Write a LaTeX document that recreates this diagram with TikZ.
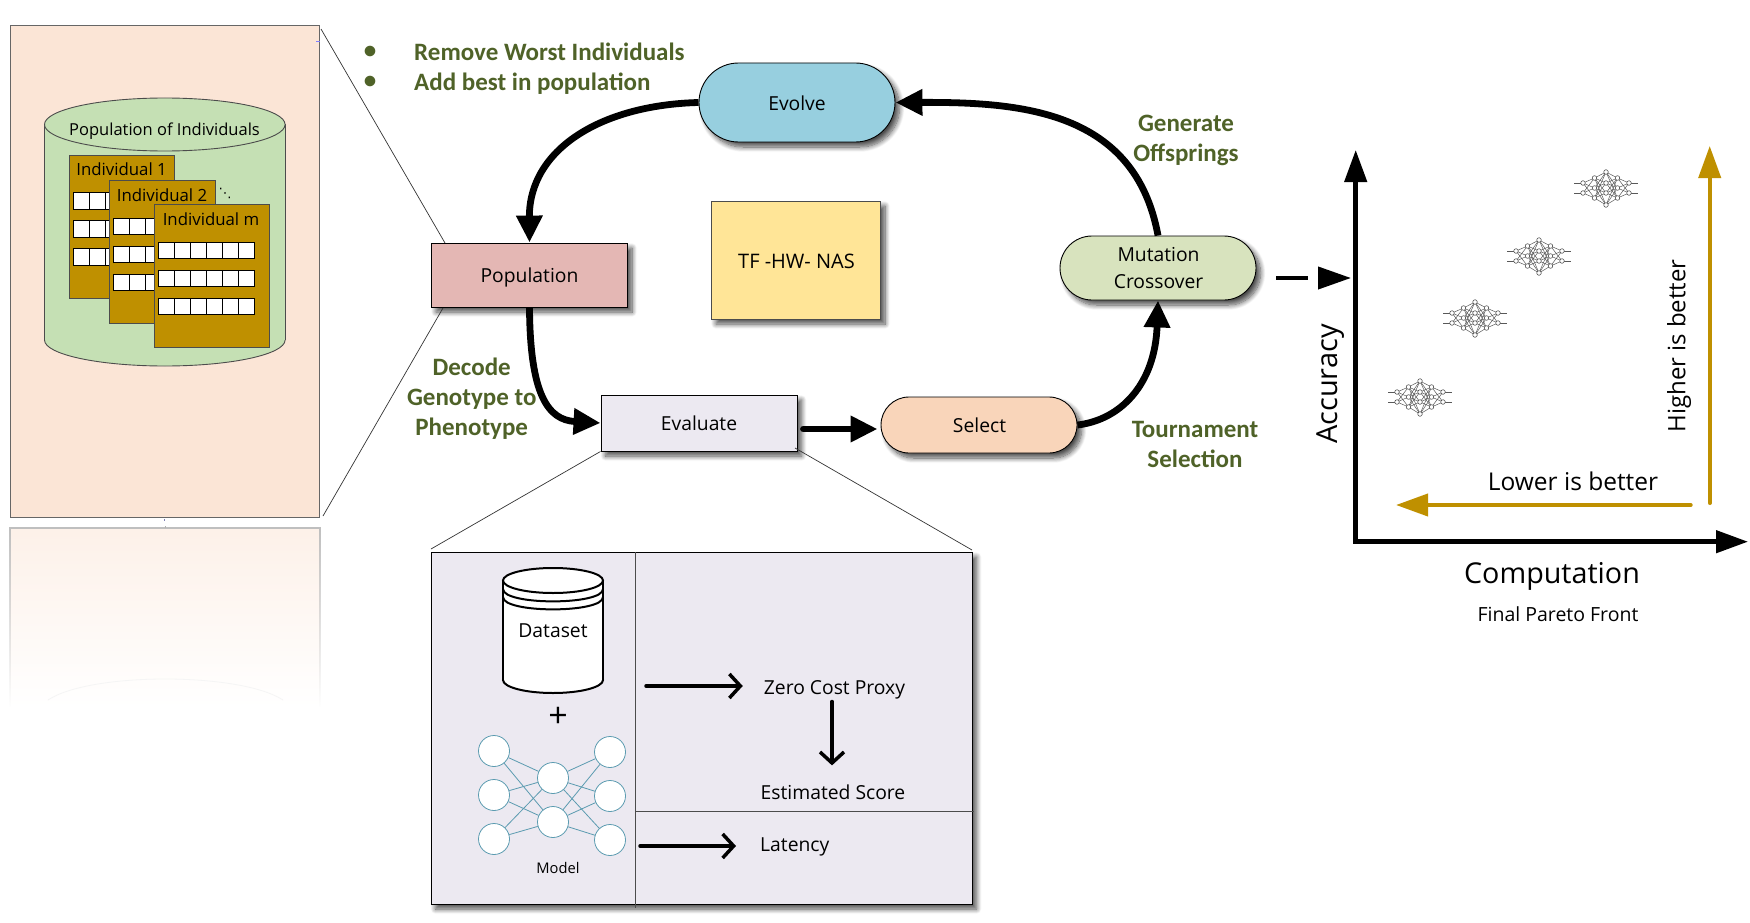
\documentclass[tikz,border=0pt]{standalone}
\usepackage{fontspec}
\setmainfont{Open Sans}
\newfontfamily\labelfont{Carlito}
\newfontfamily\symbfont{DejaVu Sans}
\usetikzlibrary{shapes,arrows.meta,calc,positioning,backgrounds,shadows.blur,fadings}

\definecolor{panelpeach}{HTML}{FBE5D6}
\definecolor{cylgreen}{HTML}{C5E0B4}
\definecolor{goldbox}{HTML}{BF9000}
\definecolor{evolveblue}{HTML}{97CFDF}
\definecolor{poppink}{HTML}{E4B7B4}
\definecolor{tfyellow}{HTML}{FFE597}
\definecolor{mutgreen}{HTML}{D8E3BE}
\definecolor{evalgray}{HTML}{ECE9F1}
\definecolor{selpeach}{HTML}{F9D5BA}
\definecolor{labelgreen}{HTML}{4F6228}
\definecolor{netblue}{HTML}{5B9BB0}

\tikzset{
  softshadow/.style={blur shadow={shadow xshift=4.5pt,shadow yshift=-5pt,shadow blur radius=5pt,shadow blur steps=10,shadow opacity=70}},
  rectbox/.style={rectangle,draw=black,line width=0.9pt,inner sep=0pt,softshadow},
  roundbox/.style={rounded rectangle,draw=black,line width=0.9pt,inner sep=0pt,align=center,softshadow},
  nodetext/.style={font=\fontsize{19.3}{27}\selectfont,inner sep=0pt},
  greentext/.style={font=\labelfont\bfseries\fontsize{25}{30}\selectfont,text=labelgreen,align=center,inner sep=0pt},
  flowarrow/.style={line width=6.8pt,-{Triangle[length=27pt,width=25pt]}},
  openarrow/.style={line width=3.5pt,line cap=round,-{Straight Barb[length=11pt,width=24pt]}},
  axisarrow/.style={line width=4.5pt,{Triangle[length=32pt,width=22pt]}-{Triangle[length=32pt,width=22pt]}},
  goldarrow/.style={line width=4pt,color=goldbox,line cap=round,-{Triangle[length=32pt,width=22pt]}},
  zoomline/.style={line width=0.7pt,color=black!80},
  indbox/.style={rectangle,draw=black!70,fill=goldbox,line width=0.8pt,anchor=north west,minimum height=142.5pt,inner sep=0pt},
  cellbox/.style={draw=black,fill=white,line width=0.7pt},
  netnode/.style={circle,draw=netblue,fill=white,line width=0.8pt,minimum size=31pt,inner sep=0pt},
  minnet/.pic={
    \foreach \a in {-5,5} {
      \draw[black!65,line width=0.5pt] (-32,\a) -- (-23,\a);
      \draw[black!65,line width=0.5pt] (23,\a) -- (32,\a);
      \foreach \b in {-10,0,10} {
        \draw[black!65,line width=0.5pt] (-23,\a) -- (-11.5,\b);
        \draw[black!65,line width=0.5pt] (23,\a) -- (11.5,\b);
      }
    }
    \foreach \a in {-10,0,10}
      \foreach \b in {-16,-5,5,17} {
        \draw[black!65,line width=0.5pt] (-11.5,\a) -- (0,\b);
        \draw[black!65,line width=0.5pt] (11.5,\a) -- (0,\b);
      }
    \foreach \px/\py in {-23/-5,-23/5,23/-5,23/5,-11.5/-10,-11.5/0,-11.5/10,11.5/-10,11.5/0,11.5/10,0/-16,0/-5,0/5,0/17}
      \draw[black!75,fill=white,line width=0.5pt] (\px,\py) circle [radius=2.3pt];
  }
}

\begin{document}
\begin{tikzpicture}[x=1pt,y=-1pt]
  \useasboundingbox (0,0) rectangle (1750,923);

  % reflection under the left panel
  \shade[top color=panelpeach!55!white,bottom color=white] (10,528) rectangle (320,707);
  \draw[black!25,line width=1.2pt,path fading=south] (10,707) -- (10,528) -- (320,528) -- (320,707);
  \draw[black!4,line width=0.8pt] (48,700) .. controls (90,672) and (240,672) .. (283,700);

  % left panel
  \node[rectangle,draw=black!60,fill=panelpeach,line width=1pt,minimum width=309pt,minimum height=491pt,inner sep=0pt] (panel) at (164.5,271.5) {};
  \draw[blue!50,line width=0.8pt] (316,41) -- (320,41);
  \draw[blue!40!black!50,line width=0.8pt] (164.5,519) -- (164.5,521);
  \draw[black!30,line width=0.8pt] (165,526) -- (165,528);

  \draw[black!70,fill=cylgreen,line width=0.9pt] (164.8,340) ellipse [x radius=120.3,y radius=26];
  \fill[cylgreen] (44.5,124.5) rectangle (285.1,340);
  \draw[black!70,line width=0.9pt] (44.5,124.5) -- (44.5,340);
  \draw[black!70,line width=0.9pt] (285.1,124.5) -- (285.1,340);
  \draw[black!70,fill=cylgreen,line width=0.9pt] (164.8,124.5) ellipse [x radius=120.3,y radius=26.5];
  \node[font=\fontsize{16.5}{20}\selectfont,inner sep=0pt] (poptitle) at (164.5,131) {Population of Individuals};

  \foreach \n/\xx/\yy/\ww/\lab/\tx in {1/69/155/105.3/Individual 1/121.6,2/109/180.3/106/Individual 2/162,3/154.3/204.3/114.3/Individual m/211} {
    \node[indbox,minimum width=\ww pt] (ind\n) at (\xx,\yy) {};
    \node[font=\fontsize{16.8}{20}\selectfont,inner sep=0pt] (indlabel\n) at (\tx,\yy+14.5) {\lab};
    \foreach \r in {37.7,65.7,93.7}
      \foreach \c in {0,...,5}
        \draw[cellbox] (\xx+4.5+\c*16,\yy+\r) rectangle ++(16,16.6);
  }
  \node[font=\symbfont\fontsize{13}{14}\selectfont,inner sep=0pt] (dots) at (225,193) {⋱};

  % loop
  \node[roundbox,fill=evolveblue,minimum width=196pt,minimum height=79pt] (evolve) at (797,102.5) {};
  \node[nodetext] (evolvetext) at (797,103) {Evolve};
  \node[rectbox,fill=poppink,minimum width=196pt,minimum height=64pt] (population) at (529.5,275) {};
  \node[nodetext] (populationtext) at (529.5,277) {Population};
  \node[rectbox,fill=tfyellow,minimum width=169pt,minimum height=118pt,draw=black!70] (tfnas) at (796,260) {};
  \node[nodetext,font=\fontsize{20}{27}\selectfont] (tfnastext) at (796.5,261) {TF -HW- NAS};
  \node[roundbox,fill=mutgreen,minimum width=196pt,minimum height=64pt] (mutation) at (1158,268) {};
  \node[nodetext,align=center] (mutationtext) at (1158.5,268) {Mutation\\Crossover};
  \node[rectbox,fill=evalgray,minimum width=196pt,minimum height=56pt] (evaluate) at (699,423) {};
  \node[nodetext] (evaluatetext) at (699,423) {Evaluate};
  \node[roundbox,fill=selpeach,minimum width=196pt,minimum height=56pt] (select) at (979,425) {};
  \node[nodetext] (selecttext) at (979.5,425) {Select};

  \draw[flowarrow] (evolve.west) .. controls (600,105) and (529,150) .. (population.north);
  \draw[flowarrow] (population.south) .. controls (530,395) and (548,420) .. (evaluate.west);
  \draw[flowarrow,line cap=round,shorten <=6pt,shorten >=3pt] ([yshift=-6pt]evaluate.east) -- ([yshift=-4pt]select.west);
  \draw[flowarrow] (select.east) .. controls (1120,420) and (1155,385) .. (mutation.south);
  \draw[flowarrow] (mutation.north) .. controls (1135,110) and (1020,102) .. (evolve.east);

  % green labels
  \node[greentext] (bulleta) at (370,52) {•};
  \node[greentext] (bulletb) at (370,82) {•};
  \node[greentext,anchor=west] (removetext) at (414,52) {Remove Worst Individuals};
  \node[greentext,anchor=west] (addtext) at (414,84) {Add best in population};
  \node[greentext] (decodetext) at (471.7,399) {Decode\\Genotype to\\Phenotype};
  \node[greentext] (generatetext) at (1186,140) {Generate\\Offsprings};
  \node[greentext] (tournamenttext) at (1195,444) {Tournament\\Selection};

  % zoom lines
  \coordinate (paneltop) at (321,29);
  \coordinate (panelbot) at (323,516);
  \coordinate (popleftup) at (445,243);
  \coordinate (popleftdown) at (443,308);
  \draw[zoomline] (paneltop) -- (popleftup);
  \draw[zoomline] (panelbot) -- (popleftdown);
  \coordinate (scoreleft) at (431,549);
  \coordinate (scoreright) at (972,550);
  \coordinate (evalright) at (795,448);
  \draw[zoomline] (evaluate.south west) -- (scoreleft);
  \draw[zoomline] (evalright) -- (scoreright);

  % score box
  \node[rectbox,fill=evalgray,minimum width=541pt,minimum height=352pt] (scorebox) at (701.5,728) {};
  \draw[black!70,line width=0.9pt] (635.5,552) -- (635.5,908);
  \draw[black!70,line width=0.9pt] (635.5,811) -- (974,811);

  \draw[black,fill=white,line width=2pt] (553,680) ellipse [x radius=50,y radius=13];
  \fill[white] (503,580.5) rectangle (603,680);
  \draw[black,line width=2pt] (503,580.5) -- (503,680);
  \draw[black,line width=2pt] (603,580.5) -- (603,680);
  \draw[black,fill=white,line width=2pt] (553,580.5) ellipse [x radius=50,y radius=12.5];
  \foreach \s in {589,597}
    \draw[black,line width=2pt] (503,\s) .. controls (503,\s+16.5) and (603,\s+16.5) .. (603,\s);
  \node[nodetext] (datasettext) at (553,631) {Dataset};
  \node[font=\fontsize{34}{36}\selectfont,inner sep=0pt] (plustext) at (558,717) {+};

  \foreach \n/\xx/\yy in {a/494/751,b/494/795,c/494/839,d/553/778,e/553/822,f/610/752,g/610/796,h/610/840}
    \node[netnode] (net\n) at (\xx,\yy) {};
  \foreach \s in {a,b,c}
    \foreach \t in {d,e}
      \draw[netblue,line width=0.8pt] (net\s) -- (net\t);
  \foreach \s in {d,e}
    \foreach \t in {f,g,h}
      \draw[netblue,line width=0.8pt] (net\s) -- (net\t);
  \node[font=\fontsize{14.7}{16}\selectfont,inner sep=0pt] (modeltext) at (558,868) {Model};

  \node[nodetext] (zeroproxy) at (834.5,690) {Zero Cost Proxy};
  \node[nodetext] (estscore) at (833,792) {Estimated Score};
  \node[nodetext,anchor=west] (latency) at (760,847) {Latency};
  \coordinate (proxyin) at (646,686);
  \coordinate (latencyin) at (640,846);
  \draw[openarrow,shorten >=21pt] (proxyin) -- (proxyin -| zeroproxy.west);
  \draw[openarrow,shorten >=24pt] (latencyin) -- (latencyin -| latency.west);
  \draw[openarrow,shorten <=2pt,shorten >=19pt] ([xshift=-2.5pt]zeroproxy.south) -- ([xshift=-1pt]estscore.north);

  % pareto plot
  \coordinate (ytop) at (1355.7,150);
  \coordinate (origin) at (1355.7,541.7);
  \coordinate (xend) at (1748,541.7);
  \draw[axisarrow] (ytop) -- (origin) -- (xend);
  \coordinate (goldupa) at (1709.7,503);
  \coordinate (goldupb) at (1709.7,146);
  \coordinate (goldlefta) at (1690.7,505);
  \coordinate (goldleftb) at (1396,505);
  \draw[goldarrow] (goldupa) -- (goldupb);
  \draw[goldarrow] (goldlefta) -- (goldleftb);
  \coordinate (frontin) at (1276,278);
  \coordinate (frontout) at (1351,278);
  \draw[line width=4pt,dash pattern=on 32pt off 50pt,-{Triangle[length=33pt,width=22pt]}] (frontin) -- (frontout);

  \pic at (1606,188) {minnet};
  \pic at (1539,256) {minnet};
  \pic at (1475,318) {minnet};
  \pic at (1420,397) {minnet};

  \node[font=\fontsize{29}{32}\selectfont,inner sep=0pt,rotate=90] (accuracytext) at (1331,384) {Accuracy};
  \node[font=\fontsize{24}{28}\selectfont,inner sep=0pt,rotate=90] (highertext) at (1679,346) {Higher is better};
  \node[font=\fontsize{24.5}{28}\selectfont,inner sep=0pt] (lowertext) at (1573,481) {Lower is better};
  \node[font=\fontsize{28.7}{32}\selectfont,inner sep=0pt] (computationtext) at (1552,576) {Computation};
  \node[font=\fontsize{19.5}{24}\selectfont,inner sep=0pt] (frontlabel) at (1558,614) {Final Pareto Front};
\end{tikzpicture}
\end{document}
